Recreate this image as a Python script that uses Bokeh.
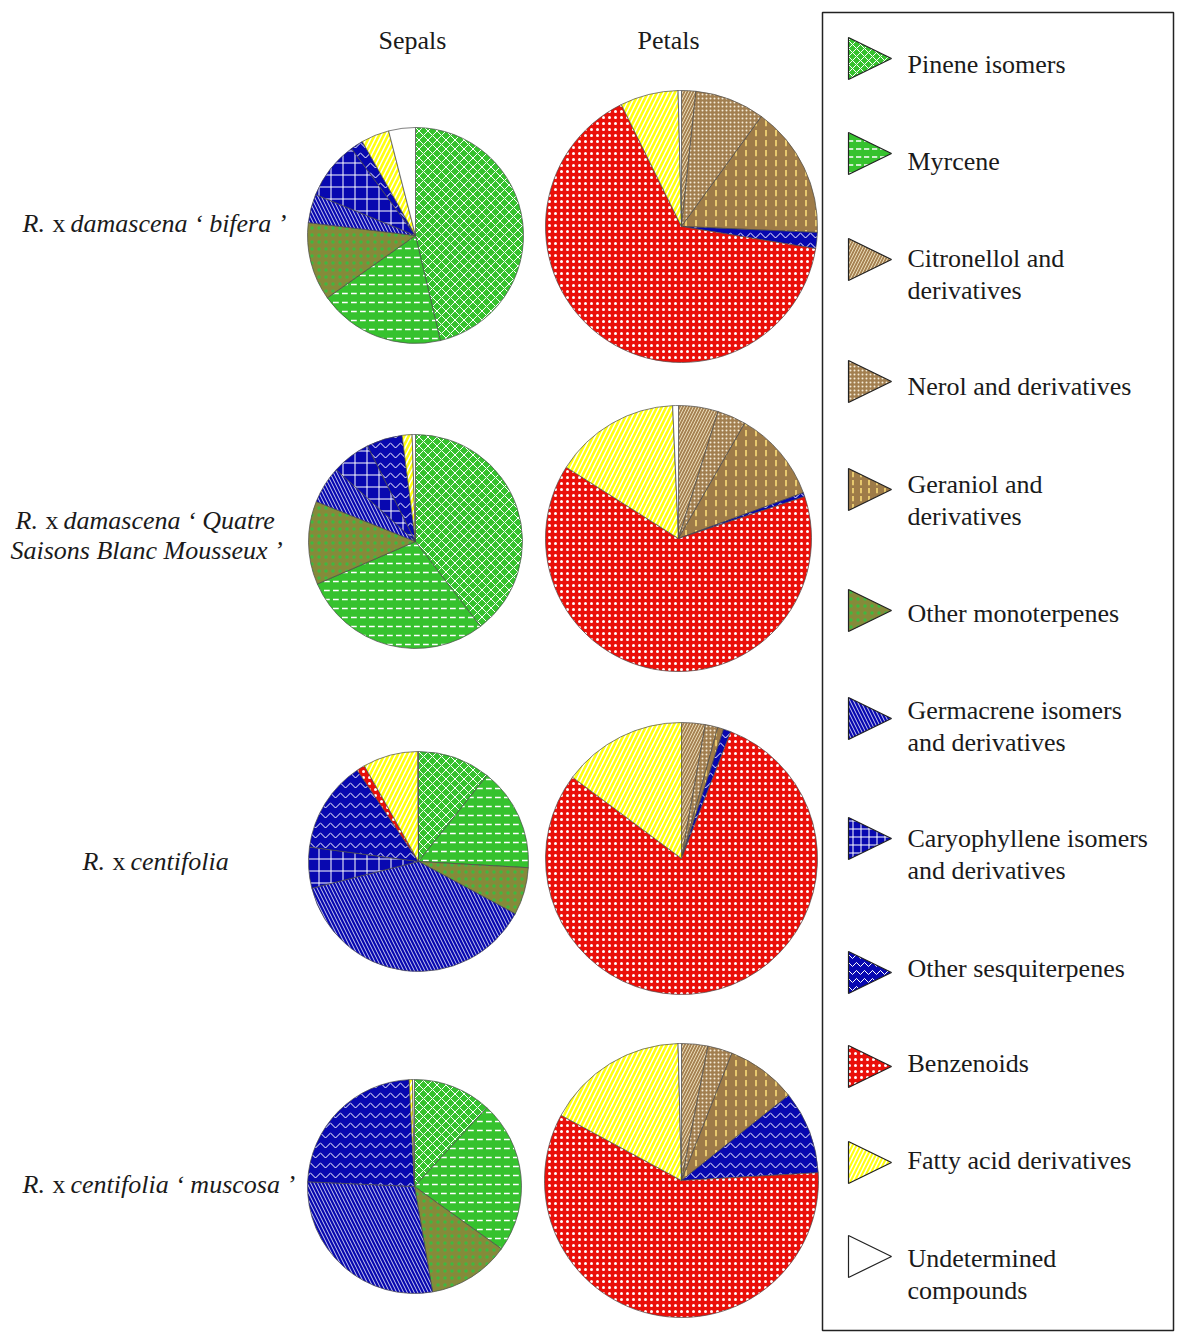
import math
from bokeh.plotting import figure
from bokeh.models import ColumnDataSource, Range1d
from bokeh.core.properties import value
from bokeh.embed import file_html
from bokeh.resources import INLINE

# ---------------- data ----------------
categories = ["Pinene isomers", "Myrcene", "Citronellol and derivatives",
              "Nerol and derivatives", "Geraniol and derivatives",
              "Other monoterpenes", "Germacrene isomers and derivatives",
              "Caryophyllene isomers and derivatives", "Other sesquiterpenes",
              "Benzenoids", "Fatty acid derivatives", "Undetermined compounds"]
legend_lines = [["Pinene isomers"], ["Myrcene"], ["Citronellol and", "derivatives"],
                ["Nerol and derivatives"], ["Geraniol and", "derivatives"],
                ["Other monoterpenes"], ["Germacrene isomers", "and derivatives"],
                ["Caryophyllene isomers", "and derivatives"], ["Other sesquiterpenes"],
                ["Benzenoids"], ["Fatty acid derivatives"], ["Undetermined", "compounds"]]

columns = ["Sepals", "Petals"]

# percentages, in category order
sepals_bifera     = [46.3, 18.9, 0.0, 0.0, 0.0, 11.7, 4.3, 8.7, 1.9, 0.0, 4.2, 4.0]
petals_bifera     = [0.0, 0.0, 1.7, 8.3, 15.7, 0.0, 0.0, 0.0, 1.9, 65.1, 6.9, 0.4]
sepals_qsbm       = [39.6, 28.9, 0.0, 0.0, 0.0, 12.6, 5.6, 5.9, 5.4, 0.0, 1.5, 0.5]
petals_qsbm       = [0.0, 0.0, 4.8, 3.5, 11.1, 0.0, 0.0, 0.0, 0.5, 64.1, 15.3, 0.7]
sepals_centifolia = [10.7, 15.2, 0.0, 0.0, 0.0, 7.0, 38.2, 6.0, 13.5, 1.2, 8.1, 0.1]
petals_centifolia = [0.0, 0.0, 2.8, 1.5, 0.7, 0.0, 0.0, 0.0, 0.9, 79.3, 14.8, 0.0]
sepals_muscosa    = [11.8, 23.1, 0.0, 0.0, 0.0, 12.4, 28.4, 0.0, 23.5, 0.0, 0.5, 0.3]
petals_muscosa    = [0.0, 0.0, 3.1, 2.9, 8.3, 0.0, 0.0, 0.0, 9.8, 58.8, 16.7, 0.4]

row_labels = [
    [[("R.", "italic"), ("x", "normal"), ("damascena ‘ bifera ’", "italic")]],
    [[("R.", "italic"), ("x", "normal"), ("damascena ‘ Quatre", "italic")],
     [("Saisons Blanc Mousseux ’", "italic")]],
    [[("R.", "italic"), ("x", "normal"), ("centifolia", "italic")]],
    [[("R.", "italic"), ("x", "normal"), ("centifolia ‘ muscosa ’", "italic")]],
]

# ---------------- styles ----------------
GREEN = "#36c22e"
BLUE = "#0808b0"
fills = [GREEN, GREEN, "#a68252", "#a27f50", "#9e7b48", "#858a3a",
         BLUE, BLUE, BLUE, "#ea100a", "#ffff10", "#ffffff"]
hatches = ["diagonal_cross", "horizontal_dash", "right_diagonal_line", "dot",
           "vertical_dash", "dot", "left_diagonal_line", "cross",
           "horizontal_wave", "dot", "right_diagonal_line", "blank"]
hatch_colors = ["#ffffff", "#ffffff", "#eadcb8", "#f4ecd8", "#ffe27a", "#3fb83f",
                "#ffffff", "#ffffff", "#ffffff", "#ffffff", "#ffffff", "#ffffff"]
hatch_scales = [9, 9, 6, 4, 10, 7, 7, 12, 10, 6, 9, 12]
hatch_weights = [1.0, 1.5, 1.0, 0.8, 1.5, 3.0, 0.8, 1.0, 1.0, 0.5, 1.5, 1.0]

FONT = "Liberation Serif"
FS = "26px"

W, H = 1177, 1338
def Y(iy):
    return H - iy

p = figure(width=W, height=H, x_range=Range1d(0, W), y_range=Range1d(0, H),
           output_backend="svg", toolbar_location=None, min_border=0)
p.axis.visible = False
p.grid.visible = False
p.outline_line_color = None
p.background_fill_color = "white"

# pie layout: (center x, center y, radius) in page pixels
layout = [
    [(415, 235, 108), (681, 226, 136)],
    [(415, 541, 107), (678, 538, 133)],
    [(418, 861, 110), (681, 858, 136)],
    [(414, 1186, 107), (681, 1180, 137)],
]
series = [[sepals_bifera, petals_bifera], [sepals_qsbm, petals_qsbm],
          [sepals_centifolia, petals_centifolia], [sepals_muscosa, petals_muscosa]]

data = dict(x=[], y=[], r=[], sa=[], ea=[], fill=[], hatch=[], hc=[], hs=[], hw=[])
for r_i, row in enumerate(series):
    for c_i, vals in enumerate(row):
        cx, cy, rad = layout[r_i][c_i]
        tot = sum(vals)
        cum = 0.0
        for k, v in enumerate(vals):
            if v <= 0:
                continue
            a0 = math.pi / 2 - 2 * math.pi * cum / tot
            cum += v
            a1 = math.pi / 2 - 2 * math.pi * cum / tot
            data["x"].append(cx); data["y"].append(Y(cy)); data["r"].append(rad)
            data["sa"].append(a0); data["ea"].append(a1)
            data["fill"].append(fills[k]); data["hatch"].append(hatches[k])
            data["hc"].append(hatch_colors[k]); data["hs"].append(hatch_scales[k])
            data["hw"].append(hatch_weights[k])

src = ColumnDataSource(data)
p.wedge(x="x", y="y", radius="r", start_angle="sa", end_angle="ea", direction="clock",
        source=src, fill_color="fill", hatch_pattern="hatch", hatch_color="hc",
        hatch_scale="hs", hatch_weight="hw", line_color="#4a4a4a", line_width=0.7)

# column headers
p.text(x=[412, 668], y=[Y(40), Y(40)], text=columns, text_align="center",
       text_baseline="middle", text_font=value(FONT), text_font_size=FS,
       text_color="#1a1a1a")

# row labels
row_pos = [(22, [223]), (15, [520, 550]), (82, [861]), (22, [1184])]
for (x0, ys), lines in zip(row_pos, row_labels):
    for li, (iy, parts) in enumerate(zip(ys, lines)):
        if len(parts) == 1:
            xs = [10]
        else:
            xs = [x0, x0 + 30, x0 + 48]
        for (txt, st), xx in zip(parts, xs):
            p.text(x=[xx], y=[Y(iy)], text=[txt], text_align="left",
                   text_baseline="middle", text_font=value(FONT),
                   text_font_size=FS, text_font_style=st, text_color="#1a1a1a")

# legend box
p.quad(left=[822], right=[1173], top=[Y(12)], bottom=[Y(1330)],
       fill_color=None, line_color="#222222", line_width=1.5)

legend_y = [58, 153, 259, 381, 489, 610, 718, 838, 972, 1066, 1162, 1256]
text_y1 = [64, 161, 258, 386, 484, 613, 710, 838, 968, 1063, 1160, 1258]
txs, tys = [], []
for k in range(len(categories)):
    yc = legend_y[k]
    txs.append([848, 848, 891])
    tys.append([Y(yc - 21), Y(yc + 21), Y(yc)])
p.patches(xs=txs, ys=tys, fill_color=fills, hatch_pattern=hatches,
          hatch_color=hatch_colors, hatch_scale=[min(s, 8) for s in hatch_scales],
          hatch_weight=hatch_weights, line_color="#222222", line_width=1.2)

lx, ly, lt = [], [], []
for k, lines in enumerate(legend_lines):
    for j, t in enumerate(lines):
        lx.append(907); ly.append(Y(text_y1[k] + 32 * j)); lt.append(t)
p.text(x=lx, y=ly, text=lt, text_align="left", text_baseline="middle",
       text_font=value(FONT), text_font_size=FS, text_color="#1a1a1a")

open("out.html", "w").write(file_html(p, INLINE))
